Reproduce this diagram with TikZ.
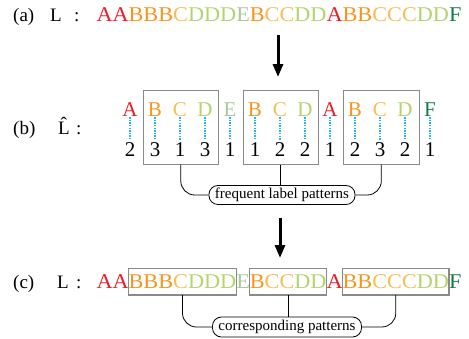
\documentclass[tikz,border=0pt]{standalone}
\usepackage{fontspec}
\setmainfont{Liberation Serif}
\usetikzlibrary{arrows.meta}
\definecolor{cA}{HTML}{ED1C24}
\definecolor{cB}{HTML}{F7941D}
\definecolor{cC}{HTML}{F6BE55}
\definecolor{cD}{HTML}{B3D46C}
\definecolor{cE}{HTML}{A9C79C}
\definecolor{cF}{HTML}{137A47}
\definecolor{boxgray}{HTML}{8A8A8A}
\definecolor{dotcyan}{HTML}{1FB4F2}
\newcommand\seqfont{\fontsize{21}{21}\selectfont}
\newcommand\labfont{\fontsize{19}{19}\selectfont}
\newcommand\tagfont{\fontsize{15}{15}\selectfont}
\newcommand\sq[1]{\scalebox{1.06}[1]{#1}}
\begin{document}
\begin{tikzpicture}[x=1pt,y=-1pt,
  lab/.style={anchor=base west,inner sep=0pt,font=\labfont},
  seqtxt/.style={anchor=base west,inner sep=0pt,outer sep=0pt,font=\seqfont},
  seqbox/.style={seqtxt,draw=boxgray,line width=1.1pt,text height=19.7pt,text depth=7pt},
  lett/.style={anchor=base,inner sep=0pt,font=\seqfont},
  pbox/.style={draw=boxgray,line width=1.1pt,inner sep=0pt},
  dotline/.style={color=dotcyan,line width=1.1pt,dash pattern=on 1.3pt off 1.3pt},
  tag/.style={draw,line width=0.8pt,rounded corners=9pt,inner xsep=6pt,inner ysep=0pt,minimum height=19pt,font=\tagfont},
  conn/.style={line width=0.8pt,rounded corners=14pt},
  bigarrow/.style={line width=3pt,-{Triangle[length=13pt,width=10pt]}}]
\useasboundingbox (0,0) rectangle (469,338);
% row (a)
\node[lab] (ta) at (13,21.5) {(a)};
\node[lab] (La) at (50,21.5) {L};
\node[lab] (ca) at (74,21.5) {:};
\node[seqtxt] (seqa) at (96.5,21) {\sq{\textcolor{cA}{AA}\textcolor{cB}{BBB}\textcolor{cC}{C}\textcolor{cD}{DDD}\textcolor{cE}{E}\textcolor{cB}{B}\textcolor{cC}{CC}\textcolor{cD}{DD}\textcolor{cA}{A}\textcolor{cB}{BB}\textcolor{cC}{CCC}\textcolor{cD}{DD}\textcolor{cF}{F}}};
% arrow 1
\coordinate (a1s) at (278,35);
\coordinate (a1e) at (278,77);
\draw[bigarrow] (a1s) -- (a1e);
% row (b)
\node[lab] (tb) at (13,134) {(b)};
\node[lab] (Lb) at (58,134) {\^{L}};
\node[lab] (cb) at (76,134) {:};
\foreach \l/\cl/\nm [count=\i] in {A/cA/2,B/cB/3,C/cC/1,D/cD/3,E/cE/1,B/cB/1,C/cC/2,D/cD/2,A/cA/1,B/cB/2,C/cC/3,D/cD/2,F/cF/1}{
  \node[lett,text=\cl] (l\i) at ({105+25*\i},116) {\l};
  \node[lett,text=black] (n\i) at ({105+25*\i},156) {\nm};
}
\foreach \i in {1,...,13}{
  \draw[dotline] ([yshift=-1pt]l\i.south) -- ([yshift=1.5pt]n\i.north);
}
\node[pbox,minimum width=75pt,minimum height=73.3pt] (bx1) at (180.8,127.4) {};
\node[pbox,minimum width=75pt,minimum height=73.3pt] (bx2) at (280.8,127.4) {};
\node[pbox,minimum width=76pt,minimum height=73.3pt] (bx3) at (381.3,127.4) {};
\node[tag] (tagb) at (282,195) {frequent label patterns};
\draw[conn] (bx1.south) |- (tagb.west);
\draw[line width=0.8pt] (bx2.south) -- (bx2.south |- tagb.north);
\draw[conn] (bx3.south) |- (tagb.east);
% arrow 2
\coordinate (a2s) at (280,218);
\coordinate (a2e) at (280,258);
\draw[bigarrow] (a2s) -- (a2e);
% row (c)
\node[lab] (tc) at (13,288.5) {(c)};
\node[lab] (Lc) at (57,288.5) {L};
\node[lab] (cc) at (76,288.5) {:};
\node[seqtxt] (c1) at (96.5,288) {\sq{\textcolor{cA}{AA}}};
\node[seqbox] (c2) at (c1.base east) {\sq{\textcolor{cB}{BBB}\textcolor{cC}{C}\textcolor{cD}{DDD}}};
\node[seqtxt] (c3) at (c2.base east) {\sq{\textcolor{cE}{E}}};
\node[seqbox] (c4) at (c3.base east) {\sq{\textcolor{cB}{B}\textcolor{cC}{CC}\textcolor{cD}{DD}}};
\node[seqtxt] (c5) at (c4.base east) {\sq{\textcolor{cA}{A}}};
\node[seqbox] (c6) at (c5.base east) {\sq{\textcolor{cB}{BB}\textcolor{cC}{CCC}\textcolor{cD}{DD}}};
\node[seqtxt] (c7) at (c6.base east) {\sq{\textcolor{cF}{F}}};
\node[tag,minimum height=20pt] (tagc) at (287,327) {corresponding patterns};
\draw[conn] (c2.south) |- (tagc.west);
\draw[line width=0.8pt] (c4.south) -- (c4.south |- tagc.north);
\draw[conn] (c6.south) |- (tagc.east);
\end{tikzpicture}
\end{document}
